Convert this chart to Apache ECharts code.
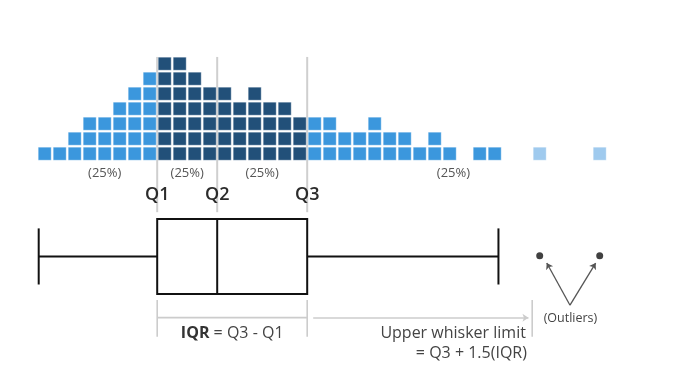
<!DOCTYPE html>
<html><head><meta charset="utf-8">
<script src="https://cdn.jsdelivr.net/npm/echarts@6/dist/echarts.min.js"></script>
<style>html,body{margin:0;padding:0;background:#fff}#c{width:692px;height:380px}</style>
</head><body><div id="c"></div>
<script>
// ---- data ----
const columnHeights = [1,1,2,3,3,4,5,6,7,7,6,5,5,4,5,4,4,3,3,3,2,2,3,2,2,1,2,1,0,1,1,0,0,1,0,0,0,1];
const quartiles = [7.5, 11.5, 17.5];
const quartileLabels = ['Q1', 'Q2', 'Q3'];
const whiskers = [-0.4, 30.25];
const outliers = [33, 37];
const shareLabels = ['(25%)', '(25%)', '(25%)', '(25%)'];

// ---- layout (axis units) ----
const BOX_Y = -6.85, BOX_HALF = 2.5, CAP_HALF = 1.87;
const FONT = '"Open Sans", "Noto Sans", sans-serif';
const iqr = quartiles[2] - quartiles[0];
const upperLimit = quartiles[2] + 1.5 * iqr;

const cells = [];
columnHeights.forEach((h, i) => { for (let r = 0; r < h; r++) cells.push([i, r]); });

function cellColor(i) {
  if (i > upperLimit) return '#9fcaee';
  if (i > quartiles[0] && i < quartiles[2]) return '#225079';
  return '#3b97dd';
}

const shareX = [
  (quartiles[0] + 0.5) / 2,
  (quartiles[0] + quartiles[1]) / 2,
  (quartiles[1] + quartiles[2]) / 2,
  (quartiles[2] + outliers[outliers.length - 1]) / 2
];

const chart = echarts.init(document.getElementById('c'), null, {renderer: 'canvas'});
const option = {
  animation: false,
  grid: {left: 7.2, right: 9.8, top: 3.7, bottom: 1.3},
  xAxis: {type: 'value', min: -2.5, max: 42.5, show: false},
  yAxis: {type: 'value', min: -15, max: 10, show: false},
  series: [
    { // quartile lines + labels
      type: 'custom', z: 1,
      data: quartiles.map((q, k) => [q, k]),
      renderItem(params, api) {
        const q = api.value(0), k = api.value(1);
        const a = api.coord([q, 6.45]), b = api.coord([q, -3.9]), t = api.coord([q, -2.75]);
        return {type: 'group', children: [
          {type: 'line', shape: {x1: a[0], y1: a[1], x2: b[0], y2: b[1]}, style: {stroke: '#cfcfcf', lineWidth: 2}},
          {type: 'text', x: t[0], y: t[1], z2: 10, style: {text: quartileLabels[k], fill: '#2b2b2b', fontSize: 18, fontWeight: 600, fontFamily: FONT, align: 'center', verticalAlign: 'middle'}}
        ]};
      }
    },
    { // squares
      type: 'custom', z: 3,
      data: cells,
      renderItem(params, api) {
        const i = api.value(0), r = api.value(1);
        const c = api.coord([i, r]);
        const s = api.size([1, 1]);
        const w = s[0] * 13 / 15, h = s[1] * 13 / 15;
        return {type: 'rect', shape: {x: c[0] - w / 2, y: c[1] - h / 2, width: w, height: h},
          style: {fill: cellColor(i), stroke: 'rgba(255,255,255,0.35)', lineWidth: 1}};
      }
    },
    { // share labels
      type: 'custom', z: 3,
      data: shareX.map((x, k) => [x, k]),
      renderItem(params, api) {
        const c = api.coord([api.value(0), -1.3]);
        return {type: 'text', x: c[0], y: c[1], style: {text: shareLabels[api.value(1)], fill: '#555', fontSize: 13, fontFamily: FONT, align: 'center', verticalAlign: 'middle'}};
      }
    },
    { // box plot
      type: 'custom', z: 3,
      data: [[whiskers[0], quartiles[0], quartiles[1], quartiles[2], whiskers[1]]],
      renderItem(params, api) {
        const lo = api.value(0), q1 = api.value(1), q2 = api.value(2), q3 = api.value(3), hi = api.value(4);
        const P = (x, y) => api.coord([x, y]);
        const st = {stroke: '#111', lineWidth: 2, fill: null};
        const L = (x1, y1, x2, y2) => { const a = P(x1, y1), b = P(x2, y2); return {type: 'line', shape: {x1: a[0], y1: a[1], x2: b[0], y2: b[1]}, style: st}; };
        const tl = P(q1, BOX_Y + BOX_HALF), br = P(q3, BOX_Y - BOX_HALF);
        return {type: 'group', children: [
          L(lo, BOX_Y, q1, BOX_Y), L(q3, BOX_Y, hi, BOX_Y),
          L(lo, BOX_Y + CAP_HALF, lo, BOX_Y - CAP_HALF),
          L(hi, BOX_Y + CAP_HALF, hi, BOX_Y - CAP_HALF),
          {type: 'rect', shape: {x: tl[0], y: tl[1], width: br[0] - tl[0], height: br[1] - tl[1]}, style: {stroke: '#111', lineWidth: 2, fill: '#fff'}},
          L(q2, BOX_Y + BOX_HALF, q2, BOX_Y - BOX_HALF)
        ]};
      }
    },
    { // outliers
      type: 'scatter', z: 4, symbol: 'circle', symbolSize: 7,
      itemStyle: {color: '#111'},
      data: outliers.map(x => [x, BOX_Y + 0.05])
    },
    { // annotation brackets and texts
      type: 'custom', z: 2,
      data: [[quartiles[0], quartiles[2], upperLimit]],
      renderItem(params, api) {
        const q1 = api.value(0), q3 = api.value(1), lim = api.value(2);
        const P = (x, y) => api.coord([x, y]);
        const gs = {stroke: '#cccccc', lineWidth: 1.6};
        const L = (x1, y1, x2, y2) => { const a = P(x1, y1), b = P(x2, y2); return {type: 'line', shape: {x1: a[0], y1: a[1], x2: b[0], y2: b[1]}, style: gs}; };
        const T = (x, y, text, align, size, extra) => { const c = P(x, y); return {type: 'text', x: c[0], y: c[1], style: Object.assign({text: text, fill: '#444', fontSize: size, fontFamily: FONT, align: align, verticalAlign: 'middle'}, extra || {})}; };
        const outMid = (outliers[0] + outliers[outliers.length - 1]) / 2;
        return {type: 'group', children: [
          L(q1, -9.75, q1, -12.2), L(q3, -9.75, q3, -12.2), L(lim, -9.75, lim, -12.2),
          L(q1, -10.93, q3, -10.93),
          T((q1 + q3) / 2, -11.95, '{b|IQR}{n| = Q3 - Q1}', 'center', 16, {rich: {
            b: {fontWeight: 'bold', fill: '#333', fontSize: 16, fontFamily: FONT},
            n: {fill: '#444', fontSize: 16, fontFamily: FONT}}}),
          T(lim - 0.42, -11.95, 'Upper whisker limit', 'right', 16),
          T(lim - 0.35, -13.3, '= Q3 + 1.5(IQR)', 'right', 16),
          T(outMid + 0.05, -10.95, '(Outliers)', 'center', 12.5)
        ]};
      }
    },
    { // arrows
      type: 'lines', coordinateSystem: 'cartesian2d', z: 2,
      symbol: ['none', 'arrow'], symbolSize: 6,
      lineStyle: {color: '#555', width: 1.3, opacity: 1},
      data: [
        {coords: [[35.02, -10.1], [33.47, -7.29]]},
        {coords: [[35.02, -10.1], [36.73, -7.29]]},
        {coords: [[quartiles[2] + 0.4, -10.93], [upperLimit - 0.25, -10.93]], lineStyle: {color: '#cccccc', width: 1.6}}
      ]
    }
  ]
};
chart.setOption(option);
</script>
</body></html>
